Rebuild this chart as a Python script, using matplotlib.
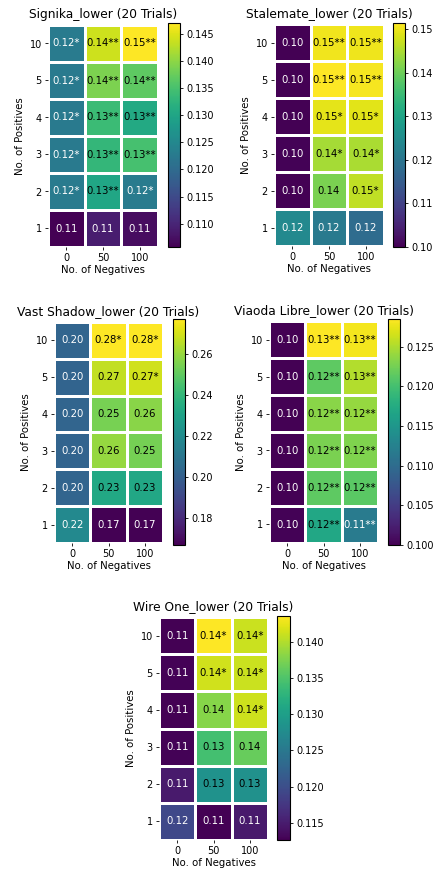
import numpy as np
import matplotlib
matplotlib.use('Agg')
import matplotlib.pyplot as plt

# ─── Data: mean score per (positives, negatives), rows top→bottom ────
positives = ['10', '5', '4', '3', '2', '1']
negatives = ['0', '50', '100']

signika = [[0.1227, 0.1439, 0.1470],
           [0.1226, 0.1389, 0.1368],
           [0.1225, 0.1339, 0.1306],
           [0.1226, 0.1331, 0.1348],
           [0.1227, 0.1302, 0.1227],
           [0.1057, 0.1090, 0.1070]]
signika_stars = [['*', '**', '**'], ['*', '**', '**'], ['*', '**', '**'],
                 ['*', '**', '**'], ['*', '**', '*'], ['', '', '']]

stalemate = [[0.1002, 0.1502, 0.1500],
             [0.1001, 0.1514, 0.1506],
             [0.1002, 0.1492, 0.1490],
             [0.1003, 0.1445, 0.1448],
             [0.1000, 0.1410, 0.1465],
             [0.1242, 0.1210, 0.1180]]
stalemate_stars = [['', '**', '**'], ['', '**', '**'], ['', '*', '*'],
                   ['', '*', '*'], ['', '', '*'], ['', '', '']]

vast_shadow = [[0.2022, 0.2769, 0.2765],
               [0.2021, 0.2670, 0.2690],
               [0.2022, 0.2545, 0.2572],
               [0.2021, 0.2594, 0.2540],
               [0.2022, 0.2330, 0.2325],
               [0.2187, 0.1669, 0.1672]]
vast_shadow_stars = [['', '*', '*'], ['', '', '*'], ['', '', ''],
                     ['', '', ''], ['', '', ''], ['', '', '']]

viaoda = [[0.1001, 0.1285, 0.1280],
          [0.1001, 0.1214, 0.1252],
          [0.1000, 0.1234, 0.1240],
          [0.1001, 0.1228, 0.1230],
          [0.1000, 0.1214, 0.1212],
          [0.1002, 0.1170, 0.1117]]
viaoda_stars = [['', '**', '**'], ['', '**', '**'], ['', '**', '**'],
                ['', '**', '**'], ['', '**', '**'], ['', '**', '**']]

wire_one = [[0.1127, 0.1436, 0.1411],
            [0.1128, 0.1414, 0.1411],
            [0.1127, 0.1380, 0.1412],
            [0.1128, 0.1343, 0.1364],
            [0.1147, 0.1284, 0.1282],
            [0.1193, 0.1126, 0.1147]]
wire_one_stars = [['', '*', '*'], ['', '*', '*'], ['', '', '*'],
                  ['', '', ''], ['', '', ''], ['', '', '']]

cbar_ticks = {
    'Signika': [0.110, 0.115, 0.120, 0.125, 0.130, 0.135, 0.140, 0.145],
    'Stalemate': [0.10, 0.11, 0.12, 0.13, 0.14, 0.15],
    'Vast Shadow': [0.18, 0.20, 0.22, 0.24, 0.26],
    'Viaoda Libre': [0.100, 0.105, 0.110, 0.115, 0.120, 0.125],
    'Wire One': [0.115, 0.120, 0.125, 0.130, 0.135, 0.140],
}
cbar_fmt = {'Signika': '%.3f', 'Stalemate': '%.2f', 'Vast Shadow': '%.2f',
            'Viaoda Libre': '%.3f', 'Wire One': '%.3f'}

# ─── Layout (pixels: heatmap box, colorbar box) ──────────────────────
W, H = 440, 871
panels = [
    ('Signika', signika, signika_stars, (48, 25, 110, 222), (168, 23, 12, 224)),
    ('Stalemate', stalemate, stalemate_stars, (274, 24, 110, 222), (393, 23, 12, 224)),
    ('Vast Shadow', vast_shadow, vast_shadow_stars, (54, 322, 109, 221), (173, 319, 12, 226)),
    ('Viaoda Libre', viaoda, viaoda_stars, (269, 321, 109, 222), (388, 319, 12, 226)),
    ('Wire One', wire_one, wire_one_stars, (159, 617, 109, 223), (277, 616, 13, 224)),
]


def frac(box):
    x, y, w, h = box
    return [x / W, 1 - (y + h) / H, w / W, h / H]


fig = plt.figure(figsize=(W / 100, H / 100), dpi=100)
plt.rcParams['font.family'] = 'DejaVu Sans'

for name, vals, stars, hbox, cbox in panels:
    data = np.array(vals)
    ax = fig.add_axes(frac(hbox))
    mesh = ax.pcolormesh(data, cmap='viridis', edgecolors='white', linewidth=1.9,
                         vmin=data.min(), vmax=data.max())
    ax.set_xlim(0, 3)
    ax.set_ylim(6, 0)
    for s in ax.spines.values():
        s.set_visible(False)
    ax.set_xticks(np.arange(3) + 0.5)
    ax.set_xticklabels(negatives)
    ax.set_yticks(np.arange(6) + 0.5)
    ax.set_yticklabels(positives)
    ax.tick_params(labelsize=7, length=2.5, width=0.6, pad=2)
    ax.set_xlabel('No. of Negatives', fontsize=7.3, labelpad=1)
    ax.set_ylabel('No. of Positives', fontsize=7.3, labelpad=3)
    ax.set_title(f'{name}_lower (20 Trials)', fontsize=8.8, pad=5)

    # dark text on the upper half of the colour range, white below
    norm = mesh.norm
    for i in range(data.shape[0]):
        for j in range(data.shape[1]):
            v = data[i, j]
            ax.text(j + 0.5, i + 0.5, f'{v:.2f}{stars[i][j]}',
                    ha='center', va='center', fontsize=7.3,
                    color='black' if norm(v) > 0.5 else 'white')

    cax = fig.add_axes(frac(cbox))
    cb = fig.colorbar(mesh, cax=cax, ticks=cbar_ticks[name], format=cbar_fmt[name])
    cb.outline.set_linewidth(0.8)
    cax.tick_params(labelsize=7, length=2.5, width=0.6, pad=2)

fig.savefig('out.png', dpi=100, facecolor='white')
